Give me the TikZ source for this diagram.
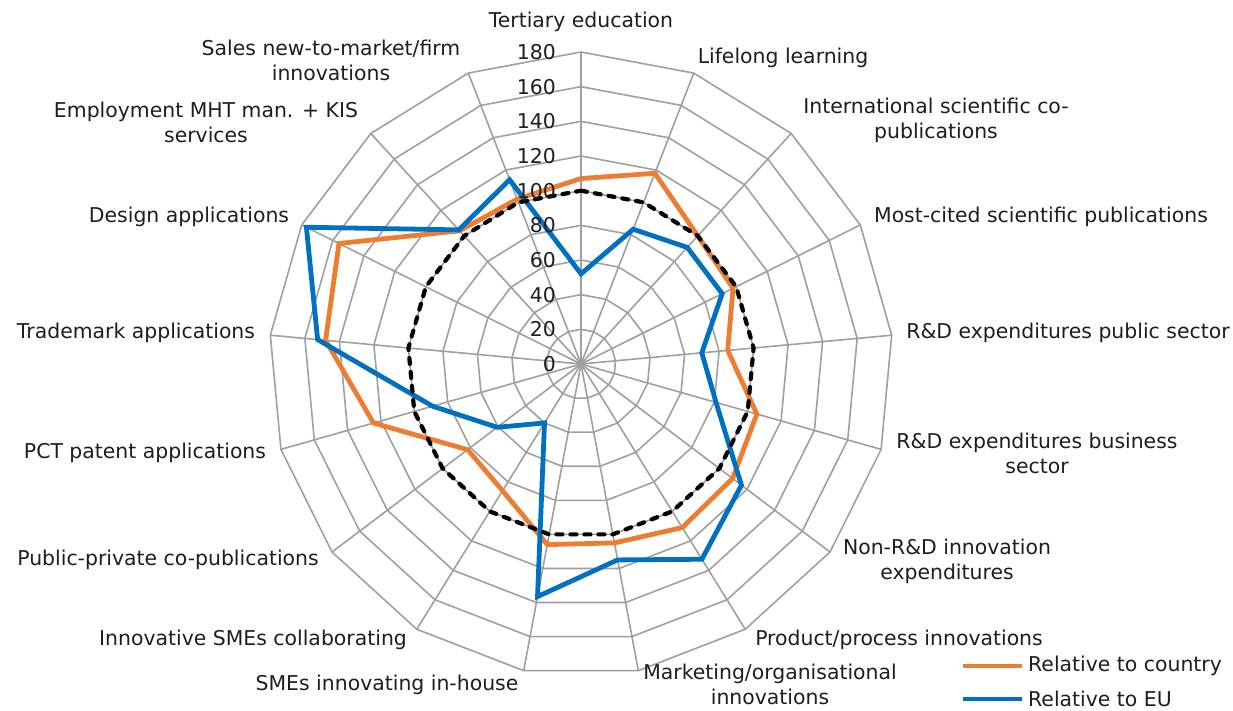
\documentclass[tikz,border=0pt]{standalone}
\usepackage{fontspec}
\setmainfont{DejaVu Sans}
\definecolor{gridc}{RGB}{160,160,160}
\definecolor{txtc}{RGB}{30,30,30}
\definecolor{orac}{RGB}{237,125,49}
\definecolor{bluc}{RGB}{0,112,192}
\begin{document}
\begin{tikzpicture}[x=1pt,y=-1pt,
  lbl/.style={font=\fontsize{20.4}{25}\selectfont, text=txtc, align=center, inner sep=0pt},
  gridline/.style={draw=gridc, line width=1.6pt},
  series/.style={line width=4.8pt, line join=miter},
  refline/.style={draw=black, line width=4.2pt, dash pattern=on 6pt off 8pt, line cap=round}]
\useasboundingbox (0,0) rectangle (1233,711);
\def\cx{581}\def\cy{364}\def\k{1.7333}
% spokes
\foreach \i in {0,...,16}{
  \coordinate (s\i) at ({\cx+180*\k*sin(\i*360/17)},{\cy-180*\k*cos(\i*360/17)});
}
\coordinate (c) at (\cx,\cy);
\foreach \i in {0,...,16} \draw[gridline] (c) -- (s\i);
% rings
\foreach \v in {20,40,...,180}{
  \draw[gridline] plot[samples at={0,...,16}] ({\cx+\v*\k*sin(\x*360/17)},{\cy-\v*\k*cos(\x*360/17)}) -- cycle;
}
% data points
\foreach \i/\v in {0/107,1/118,2/100,3/98,4/85,5/105.5,6/109.6,7/111,8/105,9/106,10/86,11/82,12/124.5,13/148,14/156,15/104,16/102}{
  \coordinate (o\i) at ({\cx+\v*\k*sin(\i*360/17)},{\cy-\v*\k*cos(\i*360/17)});
}
\foreach \i/\v in {0/52,1/83.4,2/91,3/91,4/70,5/81,6/116,7/132.5,8/115,9/136.5,10/40,11/60.6,12/89,13/152.6,14/177,15/104.7,16/114}{
  \coordinate (b\i) at ({\cx+\v*\k*sin(\i*360/17)},{\cy-\v*\k*cos(\i*360/17)});
}
\foreach \i in {0,...,16}{
  \coordinate (r\i) at ({\cx+100*\k*sin(\i*360/17)},{\cy-100*\k*cos(\i*360/17)});
}
\draw[series, draw=orac] (o0) \foreach \i in {1,...,16}{ -- (o\i)} -- cycle;
\draw[series, draw=bluc] (b0) \foreach \i in {1,...,16}{ -- (b\i)} -- cycle;
\draw[refline] (r0) \foreach \i in {1,...,16}{ -- (r\i)} -- cycle;
% tick labels
\foreach \v in {0,20,...,180}{
  \node[lbl, anchor=east] (t\v) at (556,{\cy-\v*\k}) {\v};
}
% category labels
\node[lbl] (l0) at (581,22) {Tertiary education};
\node[lbl] (l1) at (783,58) {Lifelong learning};
\node[lbl] (l2) at (936,120) {International scientific co-\\publications};
\node[lbl] (l3) at (1041,217) {Most-cited scientific publications};
\node[lbl] (l4) at (1068,333) {R\&D expenditures public sector};
\node[lbl] (l5) at (1037,453) {R\&D expenditures business\\sector};
\node[lbl] (l6) at (947,561) {Non-R\&D innovation\\expenditures};
\node[lbl] (l7) at (899,640) {Product/process innovations};
\node[lbl] (l8) at (770,684) {Marketing/organisational\\innovations};
\node[lbl] (l9) at (387,685) {SMEs innovating in-house};
\node[lbl] (l10) at (253,640) {Innovative SMEs collaborating};
\node[lbl] (l11) at (168,560) {Public-private co-publications};
\node[lbl] (l12) at (145,453) {PCT patent applications};
\node[lbl] (l13) at (136,333) {Trademark applications};
\node[lbl] (l14) at (189,217) {Design applications};
\node[lbl] (l15) at (206,122) {Employment MHT man. + KIS\\services};
\node[lbl] (l16) at (331,60) {Sales new-to-market/firm\\innovations};
% legend
\coordinate (la1) at (963,666); \coordinate (la2) at (1022,666);
\coordinate (lb1) at (963,699); \coordinate (lb2) at (1022,699);
\draw[series, draw=orac] (la1) -- (la2);
\draw[series, draw=bluc] (lb1) -- (lb2);
\node[lbl, anchor=west] (lt1) at (1028,666) {Relative to country};
\node[lbl, anchor=west] (lt2) at (1028,699) {Relative to EU};
\end{tikzpicture}
\end{document}
